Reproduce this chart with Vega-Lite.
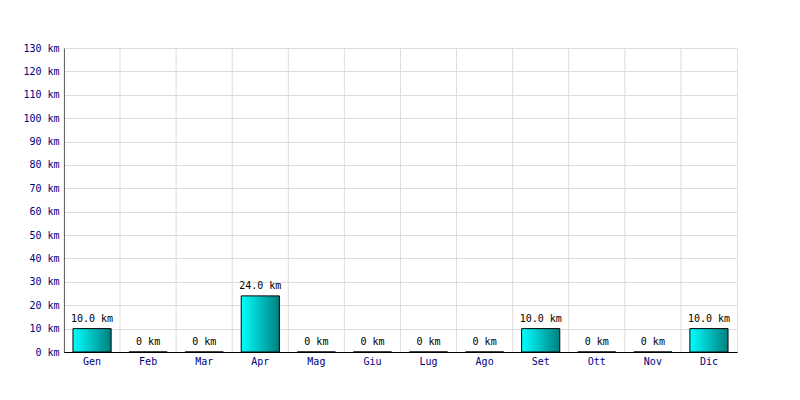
{
  "$schema": "https://vega.github.io/schema/vega-lite/v6.json",
  "width": 673,
  "height": 304,
  "autosize": {"type": "none"},
  "padding": {"left": 64, "top": 48, "right": 63, "bottom": 48},
  "background": "white",
  "config": {
    "view": {"stroke": "#dddddd"},
    "font": "DejaVu Sans Mono"
  },
  "data": {
    "values": [
      {"month": "Gen", "km": 10, "label": "10.0 km"},
      {"month": "Feb", "km": 0, "label": "0 km"},
      {"month": "Mar", "km": 0, "label": "0 km"},
      {"month": "Apr", "km": 24, "label": "24.0 km"},
      {"month": "Mag", "km": 0, "label": "0 km"},
      {"month": "Giu", "km": 0, "label": "0 km"},
      {"month": "Lug", "km": 0, "label": "0 km"},
      {"month": "Ago", "km": 0, "label": "0 km"},
      {"month": "Set", "km": 10, "label": "10.0 km"},
      {"month": "Ott", "km": 0, "label": "0 km"},
      {"month": "Nov", "km": 0, "label": "0 km"},
      {"month": "Dic", "km": 10, "label": "10.0 km"}
    ]
  },
  "encoding": {
    "x": {
      "field": "month",
      "type": "nominal",
      "sort": null,
      "scale": {"paddingInner": 0.32, "paddingOuter": 0.16},
      "axis": {
        "title": null,
        "labelAngle": 0,
        "labelFont": "DejaVu Sans Mono",
        "labelFontSize": 10,
        "labelColor": "#000080",
        "labelPadding": 4,
        "ticks": false,
        "domainColor": "#000000",
        "grid": false
      }
    },
    "y": {
      "field": "km",
      "type": "quantitative",
      "scale": {"domain": [0, 130], "nice": false},
      "axis": {
        "title": null,
        "tickCount": 13,
        "tickMinStep": 10,
        "labelExpr": "datum.value + ' km'",
        "labelOverlap": false,
        "labelFont": "DejaVu Sans Mono",
        "labelFontSize": 10,
        "labelColor": "#000080",
        "labelPadding": 5,
        "ticks": false,
        "domainColor": "#000000",
        "grid": true,
        "gridColor": "#dddddd"
      }
    }
  },
  "layer": [
    {
      "mark": {"type": "rule", "color": "#dddddd", "strokeWidth": 1, "xOffset": -9},
      "encoding": {
        "x": {"field": "month", "type": "nominal", "sort": null, "bandPosition": 0},
        "y": {"value": 0},
        "y2": {"value": 304}
      }
    },
    {
      "mark": {
        "type": "bar",
        "stroke": "#000000",
        "strokeWidth": 1,
        "fill": {
          "gradient": "linear",
          "x1": 0, "y1": 0, "x2": 1, "y2": 0,
          "stops": [
            {"offset": 0, "color": "#00ffff"},
            {"offset": 1, "color": "#007f7f"}
          ]
        }
      },
      "encoding": {}
    },
    {
      "mark": {
        "type": "text",
        "baseline": "bottom",
        "dy": -5,
        "font": "DejaVu Sans Mono",
        "fontSize": 10,
        "color": "#000000"
      },
      "encoding": {
        "text": {"field": "label"}
      }
    }
  ]
}
